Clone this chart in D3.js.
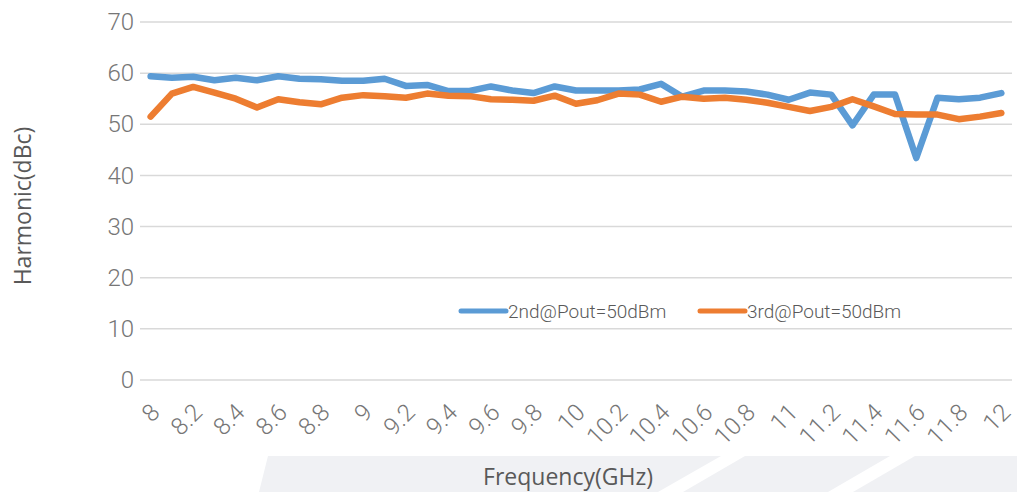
<!DOCTYPE html>
<html>
<head>
<meta charset="utf-8">
<script src="https://cdn.jsdelivr.net/npm/d3@7"></script>
<style>
  html, body { margin: 0; padding: 0; background: #ffffff; }
  svg { display: block; }
</style>
</head>
<body>
<svg id="chart" width="1017" height="492"></svg>
<script>
// ---- data ----
const frequency = ["8","8.1","8.2","8.3","8.4","8.5","8.6","8.7","8.8","8.9",
  "9","9.1","9.2","9.3","9.4","9.5","9.6","9.7","9.8","9.9",
  "10","10.1","10.2","10.3","10.4","10.5","10.6","10.7","10.8","10.9",
  "11","11.1","11.2","11.3","11.4","11.5","11.6","11.7","11.8","11.9","12"];
const second = [59.4,59.1,59.3,58.6,59.1,58.6,59.4,58.9,58.8,58.5,
  58.5,58.9,57.5,57.7,56.5,56.5,57.4,56.6,56.1,57.4,
  56.6,56.6,56.6,56.8,57.9,55.4,56.6,56.6,56.4,55.8,
  54.8,56.2,55.8,49.8,55.8,55.8,43.4,55.2,54.9,55.2,56.1];
const third = [51.5,56.0,57.3,56.2,55.0,53.3,54.9,54.3,53.9,55.2,
  55.7,55.5,55.2,56.0,55.6,55.5,54.9,54.8,54.6,55.6,
  54.0,54.7,56.0,55.8,54.4,55.4,55.0,55.2,54.8,54.2,
  53.4,52.6,53.4,54.9,53.5,52.0,51.9,51.9,51.0,51.5,52.2];
const xTickLabels = ["8","8.2","8.4","8.6","8.8","9","9.2","9.4","9.6","9.8",
  "10","10.2","10.4","10.6","10.8","11","11.2","11.4","11.6","11.8","12"];
const yTicks = [0,10,20,30,40,50,60,70];
const seriesNames = ["2nd@Pout=50dBm","3rd@Pout=50dBm"];
const seriesColors = ["#5b9bd5","#ed7d31"];

(function () {
// ---- layout ----
const svg = d3.select("#chart");
const mLeft = 140, mRight = 1012, mTop = 22, mBottom = 380;

// decorative background band
const band = svg.append("g");
const bandShapes = [
  [[268,456],[721,456],[658,492],[259,492]],
  [[745,456],[890,456],[828,492],[683,492]],
  [[915,456],[1017,456],[1017,492],[853,492]]
];
bandShapes.forEach(s => band.append("path")
  .attr("d", d3.line()(s) + "Z").attr("fill", "#f0f1f4"));

const x = d3.scalePoint().domain(frequency).range([mLeft, mRight]).padding(0.5);
const y = d3.scaleLinear().domain([0, 70]).range([mBottom, mTop]);

// gridlines
svg.append("g").selectAll("line").data(yTicks).join("line")
  .attr("x1", mLeft).attr("x2", mRight)
  .attr("y1", d => y(d)).attr("y2", d => y(d))
  .attr("stroke", "#d9d9d9").attr("stroke-width", 1.5);

// y axis
const yAxis = svg.append("g").attr("transform", `translate(${mLeft - 6},0)`)
  .call(d3.axisLeft(y).tickValues(yTicks).tickSize(0).tickPadding(0));
yAxis.select(".domain").remove();
yAxis.selectAll("text")
  .attr("font-family", "Roboto").attr("font-weight", 300)
  .attr("font-size", 24).attr("fill", "#767676");

// x axis
const xAxis = svg.append("g").attr("transform", `translate(0,${mBottom})`)
  .call(d3.axisBottom(x).tickValues(xTickLabels).tickSize(0));
xAxis.select(".domain").remove();
xAxis.selectAll("text")
  .attr("font-family", "Roboto").attr("font-weight", 300)
  .attr("font-size", 24).attr("fill", "#767676")
  .attr("text-anchor", "end")
  .attr("y", 0).attr("dy", "0.35em")
  .attr("transform", "translate(4,28) rotate(-45)");

// lines
const line = d3.line().x((d, i) => x(frequency[i])).y(d => y(d));
[second, third].forEach((s, k) => {
  svg.append("path").datum(s)
    .attr("d", line)
    .attr("fill", "none")
    .attr("stroke", seriesColors[k])
    .attr("stroke-width", 6.5)
    .attr("stroke-linejoin", "round")
    .attr("stroke-linecap", "round");
});

// legend
const legendX = [461, 700];
seriesNames.forEach((n, k) => {
  const g = svg.append("g").attr("transform", `translate(${legendX[k]},311)`);
  g.append("line").attr("x1", 0).attr("x2", 45).attr("y1", 0).attr("y2", 0)
    .attr("stroke", seriesColors[k]).attr("stroke-width", 5).attr("stroke-linecap", "round");
  g.append("text").attr("x", 47).attr("y", 0).attr("dy", "0.35em")
    .attr("font-family", "Roboto").attr("font-weight", 300)
    .attr("font-size", 19).attr("fill", "#595959").text(n);
});

// axis titles
svg.append("text")
  .attr("x", 568).attr("y", 485)
  .attr("text-anchor", "middle")
  .attr("font-family", "Open Sans").attr("font-size", 23)
  .attr("fill", "#595959").text("Frequency(GHz)");
svg.append("text")
  .attr("transform", "translate(31,206) rotate(-90)")
  .attr("text-anchor", "middle")
  .attr("font-family", "Open Sans").attr("font-size", 23)
  .attr("fill", "#595959").text("Harmonic(dBc)");
})();
</script>
</body>
</html>
